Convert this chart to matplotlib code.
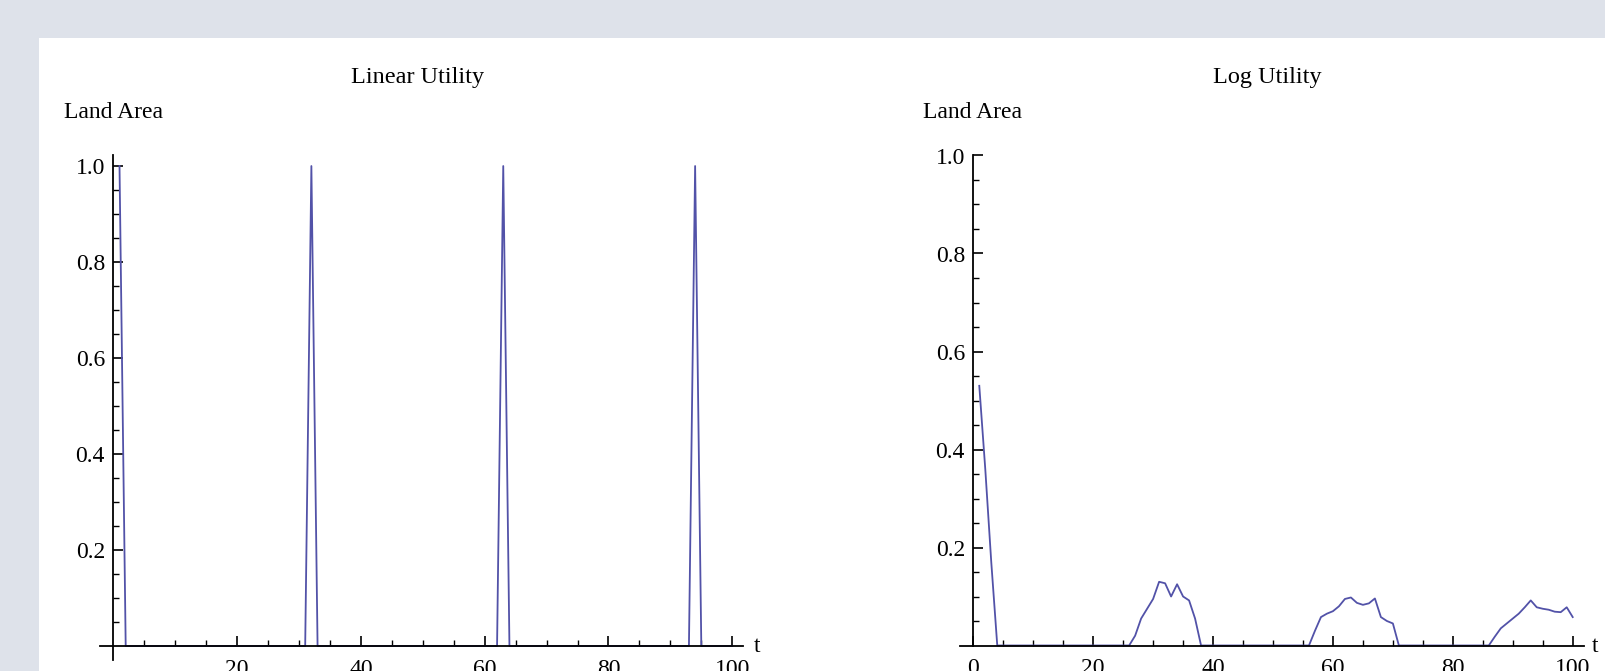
import matplotlib
matplotlib.use("Agg")
import matplotlib.pyplot as plt
from matplotlib.patches import Rectangle
from matplotlib.ticker import FixedLocator, FormatStrFormatter

plt.rcParams['font.family'] = ['Liberation Serif', 'DejaVu Serif']

# Linear utility: land area, spikes every 31 periods
lin_t = [1, 2, 31, 32, 33, 62, 63, 64, 93, 94, 95, 100]
lin_y = [1.0, 0.0, 0.0, 1.0, 0.0, 0.0, 1.0, 0.0, 0.0, 1.0, 0.0, 0.0]

# Log utility: land area
log_t = [1, 2, 3, 4,
         26, 27, 28, 29, 30, 31, 32, 33, 34, 35, 36, 37, 38,
         56, 57, 58, 59, 60, 61, 62, 63, 64, 65, 66, 67, 68, 69, 70, 71,
         86, 87, 88, 89, 90, 91, 92, 93, 94, 95, 96, 97, 98, 99, 100]
log_y = [0.53, 0.36, 0.17, 0.0,
         0.0, 0.02, 0.055, 0.075, 0.095, 0.13, 0.127, 0.10, 0.125, 0.10, 0.092, 0.055, 0.0,
         0.0, 0.03, 0.058, 0.065, 0.07, 0.08, 0.095, 0.098, 0.087, 0.083, 0.086, 0.096, 0.058, 0.05, 0.045, 0.0,
         0.0, 0.018, 0.035, 0.045, 0.055, 0.065, 0.078, 0.092, 0.078, 0.075, 0.073, 0.069, 0.068, 0.078, 0.058]

titles = ["Linear Utility", "Log Utility"]
y_label = "Land Area"
x_label = "t"
y_major = [0.2, 0.4, 0.6, 0.8, 1.0]
y_minor = [0.05, 0.1, 0.15, 0.25, 0.3, 0.35, 0.45, 0.5, 0.55, 0.65, 0.7, 0.75, 0.85, 0.9, 0.95]
x_minor = [5, 10, 15, 25, 30, 35, 45, 50, 55, 65, 70, 75, 85, 90, 95]

W, H = 1605, 671
fig = plt.figure(figsize=(W / 100, H / 100), dpi=100, facecolor='#dee2ea')
fig.add_artist(Rectangle((39 / W, 0), 1 - 39 / W, (H - 38) / H,
                         transform=fig.transFigure, facecolor='white',
                         edgecolor='none', zorder=0))

line_color = '#5252a8'
fs = 17


def style_axes(ax, x_major, ylim, spine_bounds):
    ax.set_facecolor('none')
    ax.set_xlim(-2.2, 101.8)
    ax.set_ylim(*ylim)
    for s in ['top', 'right']:
        ax.spines[s].set_visible(False)
    ax.spines['left'].set_position(('data', 0))
    ax.spines['bottom'].set_position(('data', 0))
    ax.spines['left'].set_bounds(*spine_bounds)
    for s in ['left', 'bottom']:
        ax.spines[s].set_linewidth(1.3)
    ax.xaxis.set_major_locator(FixedLocator(x_major))
    ax.xaxis.set_minor_locator(FixedLocator(x_minor))
    ax.yaxis.set_major_locator(FixedLocator(y_major))
    ax.yaxis.set_minor_locator(FixedLocator(y_minor))
    ax.yaxis.set_major_formatter(FormatStrFormatter('%.1f'))
    ax.tick_params(which='major', direction='in', length=7, width=1.2, labelsize=fs)
    ax.tick_params(which='minor', direction='in', length=4, width=1.0)
    ax.tick_params(axis='x', which='major', pad=9)
    ax.tick_params(axis='y', which='major', pad=6)


# left panel
ax1 = fig.add_axes([99.7 / W, (H - 660.4) / H, (743.4 - 99.7) / W, (660.4 - 155) / H])
ax1.plot(lin_t, lin_y, color=line_color, lw=1.3)
style_axes(ax1, [20, 40, 60, 80, 100], (-0.03, 1.023), (-0.03, 1.023))

# right panel
ax2 = fig.add_axes([960.1 / W, (H - 660.2) / H, (1583.5 - 960.1) / W, (660.2 - 155.5) / H])
ax2.plot(log_t, log_y, color=line_color, lw=1.3)
style_axes(ax2, [0, 20, 40, 60, 80, 100], (-0.03, 1.0), (0, 1.0))

# titles and axis labels
fig.text(418 / W, 1 - 77 / H, titles[0], ha='center', va='center', fontsize=17.5)
fig.text(1267 / W, 1 - 77 / H, titles[1], ha='center', va='center', fontsize=17.5)
fig.text(63.5 / W, 1 - 112.6 / H, y_label, ha='left', va='center', fontsize=fs)
fig.text(923 / W, 1 - 112.6 / H, y_label, ha='left', va='center', fontsize=fs)
fig.text(754 / W, 1 - 646 / H, x_label, ha='left', va='center', fontsize=fs)
fig.text(1592 / W, 1 - 646 / H, x_label, ha='left', va='center', fontsize=fs)

fig.savefig('out.png', dpi=100, facecolor=fig.get_facecolor())
